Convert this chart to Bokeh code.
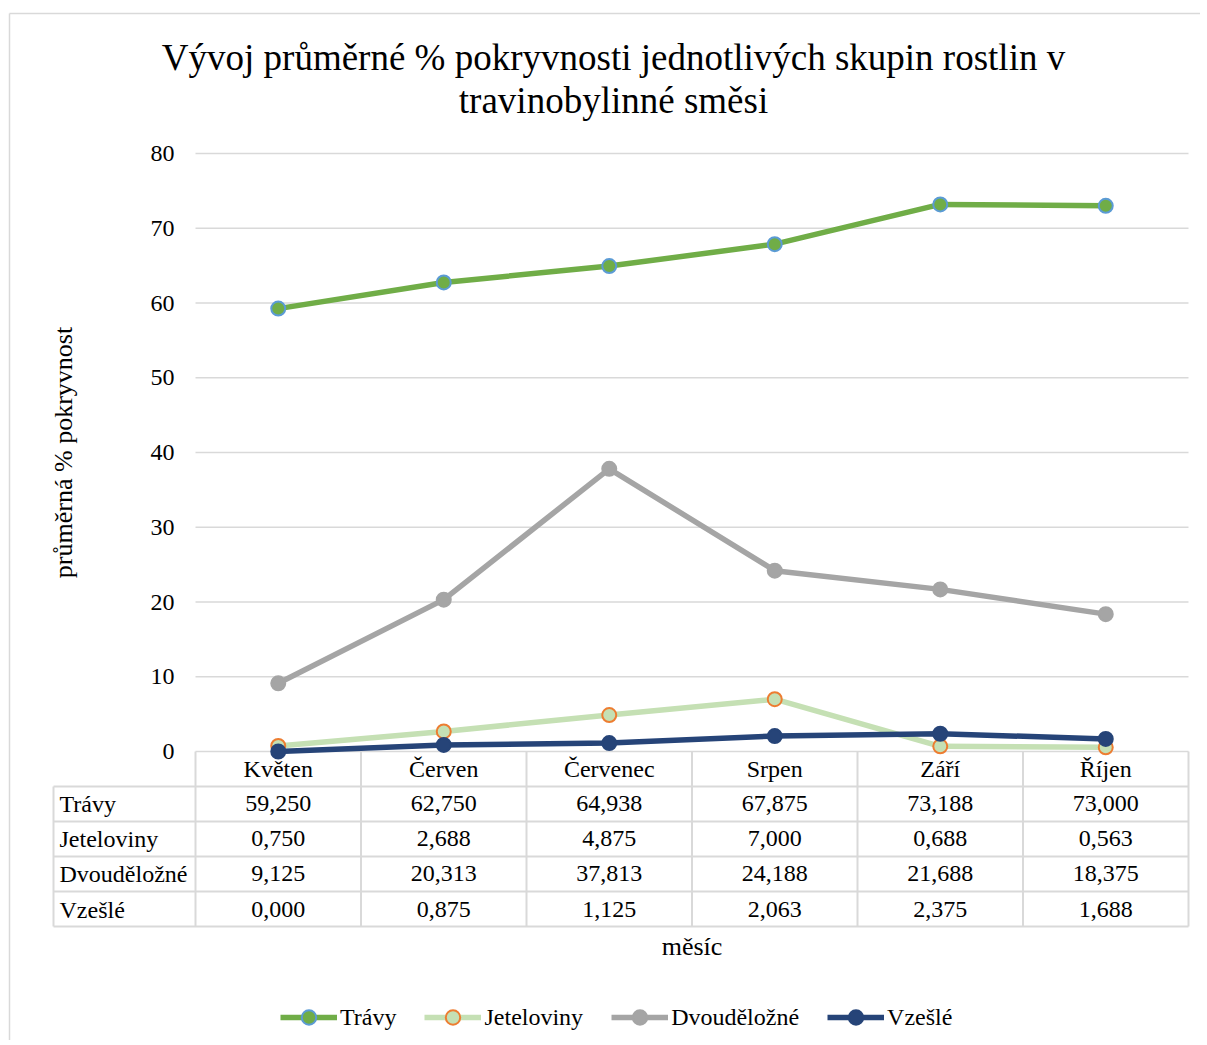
import math
from bokeh.plotting import figure
from bokeh.models import Legend, LegendItem, ColumnDataSource
from bokeh.core.properties import value
from bokeh.embed import file_html
from bokeh.resources import INLINE

# ---------------- data ----------------
months = ["Květen", "Červen", "Červenec", "Srpen", "Září", "Říjen"]
travy = [59.250, 62.750, 64.938, 67.875, 73.188, 73.000]
jeteloviny = [0.750, 2.688, 4.875, 7.000, 0.688, 0.563]
dvoudelozne = [9.125, 20.313, 37.813, 24.188, 21.688, 18.375]
vzesle = [0.000, 0.875, 1.125, 2.063, 2.375, 1.688]
series_names = ["Trávy", "Jeteloviny", "Dvouděložné", "Vzešlé"]
y_ticks = [0, 10, 20, 30, 40, 50, 60, 70, 80]
title_lines = ["Vývoj průměrné % pokryvnosti jednotlivých skupin rostlin v",
               "travinobylinné směsi"]
x_title = "měsíc"
y_title = "průměrná % pokryvnost"

# ---------------- layout (page pixels) ----------------
W, H = 1200, 1040
PAGE_OFF = 0
PLOT_L, PLOT_R = 195, 1188
Y0_PX, Y80_PX = 751, 153
sx = (PLOT_R - PLOT_L) / len(months)
sy = (Y0_PX - Y80_PX) / 80.0


def X(px):
    return (px - PLOT_L) / sx


def Y(py):
    return (Y0_PX - py) / sy


FONT = value("Liberation Serif")
GRID = "#D9D9D9"

p = figure(width=W, height=H, output_backend="svg", toolbar_location=None,
           x_axis_location=None, y_axis_location=None,
           x_range=(X(PAGE_OFF), X(PAGE_OFF + W)),
           y_range=(Y(PAGE_OFF + H), Y(PAGE_OFF)),
           min_border=0, outline_line_color=None)
p.xgrid.visible = False
p.ygrid.visible = False
p.background_fill_color = "white"
p.border_fill_color = "white"

# outer chart border (left and top visible)
p.segment(x0=[X(9), X(9)], y0=[Y(13), Y(13)], x1=[X(1215), X(9)], y1=[Y(13), Y(1060)],
          line_color=GRID, line_width=1.5)

# horizontal gridlines
n = len(months)
p.segment(x0=[0] * len(y_ticks), x1=[n] * len(y_ticks), y0=y_ticks, y1=y_ticks,
          line_color=GRID, line_width=1.5)

# y tick labels
p.text(x=[X(174)] * len(y_ticks), y=y_ticks, text=[str(t) for t in y_ticks],
       text_font=FONT, text_font_size="24px", text_align="right",
       text_baseline="middle", text_color="black")

# ---------------- data table ----------------
row_px = [786, 821, 856, 891, 926]
TABLE_L = 53
p.segment(x0=[X(TABLE_L)] * len(row_px), x1=[n] * len(row_px),
          y0=[Y(r) for r in row_px], y1=[Y(r) for r in row_px],
          line_color=GRID, line_width=2)
p.segment(x0=list(range(n + 1)), x1=list(range(n + 1)),
          y0=[0] * (n + 1), y1=[Y(926)] * (n + 1), line_color=GRID, line_width=2)
p.segment(x0=[X(TABLE_L)], x1=[X(TABLE_L)], y0=[Y(786)], y1=[Y(926)],
          line_color=GRID, line_width=2)

centers = [i + 0.5 for i in range(n)]
p.text(x=centers, y=[Y(768)] * n, text=months, text_font=FONT, text_font_size="24px",
       text_align="center", text_baseline="middle", text_color="black")

all_series = [travy, jeteloviny, dvoudelozne, vzesle]
row_centers = [803, 838, 873, 909]
for name, vals, rc in zip(series_names, all_series, row_centers):
    p.text(x=[X(59)], y=[Y(rc)], text=[name], text_font=FONT, text_font_size="24px",
           text_align="left", text_baseline="middle", text_color="black")
    p.text(x=centers, y=[Y(rc)] * n,
           text=[f"{v:.3f}".replace(".", ",") for v in vals],
           text_font=FONT, text_font_size="24px", text_align="center",
           text_baseline="middle", text_color="black")

# ---------------- series ----------------
styles = [
    ("#70AD47", "#70AD47", "#5B9BD5"),
    ("#C5E0B4", "#C5E0B4", "#ED7D31"),
    ("#A5A5A5", "#A5A5A5", "#A5A5A5"),
    ("#264478", "#264478", "#264478"),
]
items = []
for name, vals, (lc, fc, mc) in zip(series_names, all_series, styles):
    src = ColumnDataSource(dict(x=centers, y=vals))
    lr = p.line("x", "y", source=src, line_color=lc, line_width=5.5)
    sr = p.scatter("x", "y", source=src, size=14, fill_color=fc, line_color=mc,
                   line_width=2)
    items.append(LegendItem(label=name, renderers=[lr, sr]))

legend = Legend(items=items, orientation="horizontal", location=(280, 5),
                glyph_width=57, glyph_height=36, label_standoff=3, spacing=28,
                padding=0, margin=0, border_line_color=None,
                background_fill_alpha=0, label_text_font="Liberation Serif",
                label_text_font_size="24px", label_text_color="black",
                label_height=24)
p.add_layout(legend)

# ---------------- titles ----------------
p.text(x=[X(613)], y=[Y(57)], text=[title_lines[0]], text_font=FONT,
       text_font_size="37px", text_align="center", text_baseline="alphabetic",
       text_color="black")
p.text(x=[X(613)], y=[Y(100)], text=[title_lines[1]], text_font=FONT,
       text_font_size="37px", text_align="center", text_baseline="alphabetic",
       text_color="black")
p.text(x=[n / 2], y=[Y(946)], text=[x_title], text_font=FONT, text_font_size="26px",
       text_align="center", text_baseline="middle", text_color="black")
p.text(x=[X(63)], y=[Y(452)], text=[y_title], angle=math.pi / 2, text_font=FONT,
       text_font_size="26px", text_align="center",
       text_baseline="middle", text_color="black")

open("out.html", "w").write(file_html(p, INLINE))
